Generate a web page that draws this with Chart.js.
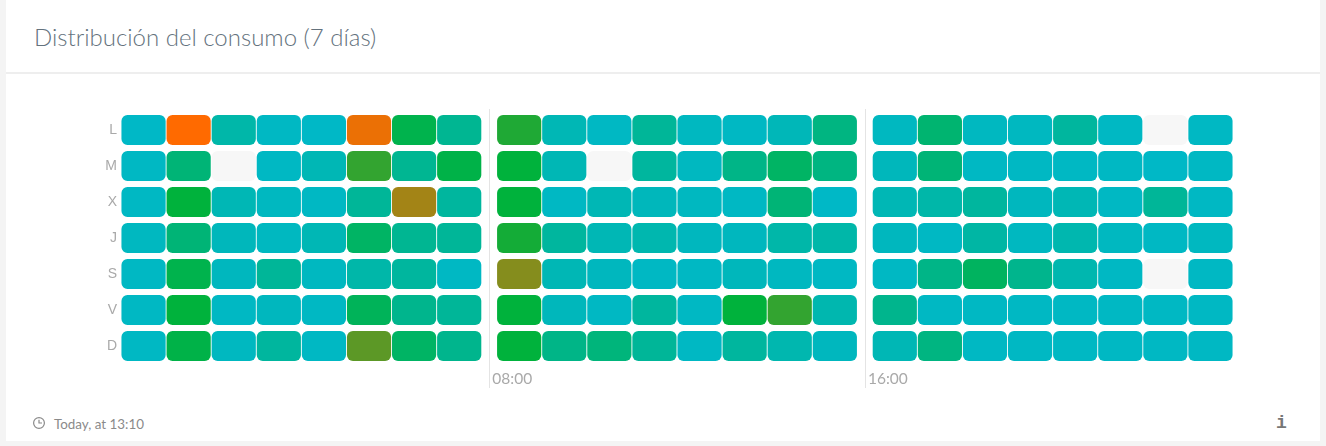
<!DOCTYPE html>
<html>
<head>
<meta charset="utf-8">
<title>Distribución del consumo</title>
<script src="https://cdn.jsdelivr.net/npm/chart.js@4"></script>
<style>
    html, body { margin: 0; padding: 0; width: 1326px; height: 446px; overflow: hidden; background: #f4f4f4; }
    #card { position: absolute; left: 6px; top: 0; width: 1314px; height: 441px; background: #fff; }
    #title { position: absolute; left: 28px; top: 22px; font: 300 24px Lato, sans-serif; color: #64727d; white-space: nowrap; }
    #sep { position: absolute; left: 0; top: 72px; width: 100%; height: 2px; background: #eeeeee; }
    #updated { position: absolute; left: 48px; top: 416px; font: 13.4px Lato, sans-serif; color: #8a8a8a; white-space: nowrap; }
    #clock { position: absolute; left: 26px; top: 416px; }
    #info { position: absolute; left: 1270px; top: 413px; font: bold 18px "Liberation Mono", monospace; color: #777; }
    #chart { position: absolute; left: 0; top: 0; }
</style>
</head>
<body>
<div id="card">
    <div id="title">Distribución del consumo (7 días)</div>
    <div id="sep"></div>
    <svg id="clock" width="14" height="14" viewBox="0 0 14 14" fill="none" stroke="#8a8a8a" stroke-width="1.2">
        <circle cx="7" cy="7" r="5.4"></circle>
        <path d="M7 3.8V7H10"></path>
    </svg>
    <div id="updated">Today, at 13:10</div>
    <div id="info">i</div>
</div>
<canvas id="chart" width="1326" height="446"></canvas>
<script>
const days = ['L', 'M', 'X', 'J', 'S', 'V', 'D'];
const tickLabels = ['08:00', '16:00'];

// consumption per hour, 0-100, null = no reading
const lunes = [2, 100, 12, 3, 2, 96, 44, 20, 56, 8, 3, 18, 4, 3, 7, 26, 4, 32, 4, 4, 16, 3, null, 3];
const martes = [3, 30, null, 3, 8, 60, 20, 46, 50, 8, null, 16, 4, 24, 36, 26, 6, 30, 3, 3, 3, 3, 2, 3];
const miercoles = [3, 50, 8, 4, 3, 18, 82, 16, 50, 3, 8, 6, 4, 3, 30, 2, 8, 12, 16, 5, 8, 3, 18, 3];
const jueves = [4, 30, 6, 4, 8, 36, 20, 18, 54, 16, 8, 10, 5, 5, 12, 12, 5, 3, 14, 4, 10, 4, 3, 4];
const sabado = [3, 44, 5, 18, 4, 12, 16, 3, 76, 8, 5, 3, 3, 6, 4, 3, 3, 24, 38, 22, 10, 3, null, 3];
const viernes = [3, 50, 3, 5, 3, 40, 22, 18, 50, 6, 3, 16, 3, 50, 60, 10, 22, 3, 3, 3, 3, 3, 3, 3];
const domingo = [3, 46, 4, 16, 3, 68, 36, 22, 50, 24, 28, 18, 3, 16, 10, 5, 8, 26, 3, 3, 3, 3, 3, 3];
const rows = [lunes, martes, miercoles, jueves, sabado, viernes, domingo];

const BLOCK_GAP = 0.33;

function hourStart(h) {
    return h + Math.floor(h / 8) * BLOCK_GAP;
}

function separator(h) {
    return hourStart(h) - BLOCK_GAP / 2;
}

function mix(a, b, t) {
    return a.map((v, i) => Math.round(v + (b[i] - v) * t));
}

function cellColor(value) {
    if (value === null || value === undefined) return '#f7f7f7';
    const teal = [0, 184, 204], green = [0, 178, 60], orange = [255, 106, 0];
    const c = value <= 50 ? mix(teal, green, value / 50) : mix(green, orange, (value - 50) / 50);
    return `rgb(${c[0]}, ${c[1]}, ${c[2]})`;
}

// one floating bar per hour, all rows sharing the same slot
const datasets = [];
for (let h = 0; h < 24; h++) {
    datasets.push({
        label: String(h).padStart(2, '0') + ':00',
        data: days.map(() => [hourStart(h) + 0.01, hourStart(h) + 0.99]),
        backgroundColor: rows.map(r => cellColor(r[h])),
        borderWidth: 0,
        borderSkipped: false,
        borderRadius: 6,
        grouped: false,
        barPercentage: 0.83,
        categoryPercentage: 1
    });
}

const blockLines = {
    id: 'blockLines',
    beforeDatasetsDraw(chart) {
        const x = chart.scales.x, ctx = chart.ctx;
        ctx.save();
        ctx.strokeStyle = '#e4e4e4';
        ctx.lineWidth = 1;
        [8, 16].forEach(h => {
            const px = Math.round(x.getPixelForValue(separator(h))) + 0.5;
            ctx.beginPath();
            ctx.moveTo(px, 109);
            ctx.lineTo(px, 388);
            ctx.stroke();
        });
        ctx.restore();
    }
};

const config = {
    type: 'bar',
    data: { labels: days, datasets: datasets },
    plugins: [blockLines],
    options: {
        indexAxis: 'y',
        responsive: false,
        animation: false,
        layout: { padding: { top: 112, right: 93, left: 0, bottom: 0 } },
        plugins: {
            legend: { display: false },
            tooltip: { enabled: false }
        },
        scales: {
            x: {
                type: 'linear',
                min: 0,
                max: hourStart(23) + 1,
                grid: { display: false },
                border: { display: false },
                afterBuildTicks: axis => {
                    axis.ticks = [8, 16].map(h => ({ value: separator(h) + 0.07 }));
                },
                afterFit: axis => { axis.height = 82; },
                ticks: {
                    autoSkip: false,
                    maxRotation: 0,
                    align: 'start',
                    padding: -2,
                    color: '#a9a9a9',
                    font: { family: 'Lato', size: 15.5 },
                    callback: (value, index) => tickLabels[index]
                }
            },
            y: {
                grid: { display: false },
                border: { display: false },
                afterFit: axis => { axis.width = 121; },
                ticks: {
                    padding: -4,
                    color: '#a9a9a9',
                    font: { family: 'Liberation Sans', size: 14 }
                }
            }
        }
    }
};

let myChart = new Chart(document.getElementById('chart'), config);
</script>
</body>
</html>
